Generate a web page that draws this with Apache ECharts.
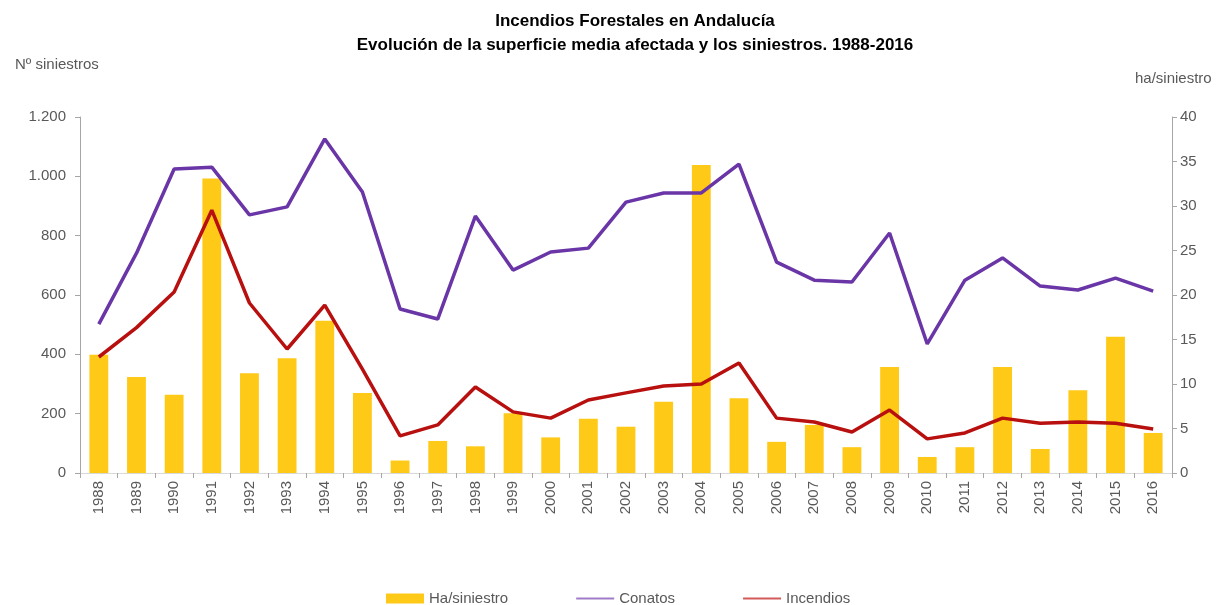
<!DOCTYPE html>
<html>
<head>
<meta charset="utf-8">
<script src="https://cdn.jsdelivr.net/npm/echarts@6/dist/echarts.min.js"></script>
<style>
  html, body { margin: 0; padding: 0; background: #fff; }
  #chart { width: 1226px; height: 605px; }
</style>
</head>
<body>
<div id="chart"></div>
<script>
// años (categorías del eje X)
var years = ['1988', '1989', '1990', '1991', '1992', '1993', '1994', '1995', '1996', '1997',
    '1998', '1999', '2000', '2001', '2002', '2003', '2004', '2005', '2006', '2007',
    '2008', '2009', '2010', '2011', '2012', '2013', '2014', '2015', '2016'];

// superficie media por siniestro (ha/siniestro, eje derecho)
var haSiniestro = [13.3, 10.8, 8.8, 33.1, 11.2, 12.9, 17.1, 9.0, 1.4, 3.6,
    3.0, 6.7, 4.0, 6.1, 5.2, 8.0, 34.6, 8.4, 3.5, 5.4,
    2.9, 11.9, 1.8, 2.9, 11.9, 2.7, 9.3, 15.3, 4.5];

// número de conatos (eje izquierdo)
var conatos = [502, 741, 1025, 1031, 870, 897, 1126, 947, 553, 519,
    866, 684, 745, 758, 913, 944, 944, 1041, 711, 650,
    644, 809, 435, 650, 725, 630, 617, 657, 613];

// número de incendios (eje izquierdo)
var incendios = [391, 490, 610, 886, 573, 418, 566, 350, 125, 162,
    290, 206, 185, 246, 270, 293, 300, 371, 185, 172,
    138, 212, 115, 135, 185, 168, 172, 168, 148];

var axisGrey = '#a6a6a6';
var labelGrey = '#595959';

function miles(v) {
    return String(v).replace(/\B(?=(\d{3})+(?!\d))/g, '.');
}

var chart = echarts.init(document.getElementById('chart'));
var option = {
    animation: false,
    textStyle: { fontFamily: 'Liberation Sans, Arial, sans-serif' },
    title: [
        {
            text: 'Incendios Forestales en Andalucía\nEvolución de la superficie media afectada y los siniestros. 1988-2016',
            left: 630,
            top: 4,
            textAlign: 'center',
            textStyle: { fontSize: 17, fontWeight: 'bold', color: '#000', lineHeight: 24 }
        },
        {
            text: 'Nº siniestros',
            left: 10,
            top: 52,
            textStyle: { fontSize: 15, fontWeight: 'normal', color: labelGrey }
        },
        {
            text: 'ha/siniestro',
            left: 1130,
            top: 66,
            textStyle: { fontSize: 15, fontWeight: 'normal', color: labelGrey }
        }
    ],
    grid: { left: 80, right: 54, top: 117, bottom: 132 },
    legend: {
        top: 586,
        left: 381,
        itemGap: 67,
        itemWidth: 38,
        itemHeight: 10,
        textStyle: { fontSize: 15, color: labelGrey },
        data: [
            { name: 'Ha/siniestro', icon: 'rect' },
            { name: 'Conatos', itemStyle: { opacity: 0 }, lineStyle: { width: 2, color: '#a07cc8' } },
            { name: 'Incendios', itemStyle: { opacity: 0 }, lineStyle: { width: 2, color: '#d45a5a' } }
        ]
    },
    xAxis: [
        {
            type: 'category',
            data: years,
            axisLine: { lineStyle: { color: axisGrey } },
            axisTick: { show: true, length: 5, lineStyle: { color: axisGrey } },
            axisLabel: { rotate: 90, fontSize: 15, color: labelGrey, margin: 8 }
        },
        {
            type: 'category',
            position: 'top',
            data: years,
            axisLine: { lineStyle: { color: '#d9d9d9' } },
            axisTick: { show: false },
            axisLabel: { show: false }
        }
    ],
    yAxis: [
        {
            type: 'value',
            min: 0,
            max: 1200,
            interval: 200,
            axisLine: { show: true, lineStyle: { color: axisGrey } },
            axisTick: { show: true, length: 5, lineStyle: { color: axisGrey } },
            splitLine: { show: false },
            axisLabel: { fontSize: 15, color: labelGrey, margin: 14, formatter: miles }
        },
        {
            type: 'value',
            min: 0,
            max: 40,
            interval: 5,
            position: 'right',
            axisLine: { show: true, lineStyle: { color: axisGrey } },
            axisTick: { show: true, length: 5, lineStyle: { color: axisGrey } },
            splitLine: { show: false },
            axisLabel: { fontSize: 15, color: labelGrey, margin: 8 }
        }
    ],
    series: [
        {
            name: 'Ha/siniestro',
            type: 'bar',
            yAxisIndex: 1,
            barWidth: '50%',
            data: haSiniestro,
            itemStyle: { color: '#ffc918' }
        },
        {
            name: 'Conatos',
            type: 'line',
            data: conatos,
            symbol: 'none',
            lineStyle: { width: 3.5, color: '#6a35a6' },
            itemStyle: { color: '#6a35a6' }
        },
        {
            name: 'Incendios',
            type: 'line',
            data: incendios,
            symbol: 'none',
            lineStyle: { width: 3.5, color: '#b80f0f' },
            itemStyle: { color: '#b80f0f' }
        }
    ]
};
chart.setOption(option);
</script>
</body>
</html>
